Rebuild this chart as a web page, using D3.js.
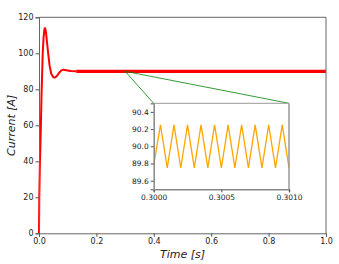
<!DOCTYPE html>
<meta charset="utf-8">
<script src="https://d3js.org/d3.v7.min.js"></script>
<body style="margin:0;background:#fff">
    <div id="viz"></div>
</body>
<style>
    text { font-family: "DejaVu Sans", sans-serif; fill: #222; }
</style>
<script>
    // main current trace (transient then flat at 90 A)
    let timeMain = [0, 0.001, 0.003, 0.006, 0.009, 0.013, 0.016, 0.019, 0.021, 0.024, 0.028, 0.032,
        0.037, 0.043, 0.05, 0.056, 0.063, 0.07, 0.078, 0.085, 0.095, 0.11, 0.13];
    let currentMain = [0, 20, 38, 56, 78, 100, 109, 113.5, 114, 112, 106, 100,
        93, 88.5, 86.7, 86.5, 87.5, 89.2, 90.5, 90.9, 90.6, 90.2, 90];
    let timeFlat = [0.13, 1.0];
    let currentFlat = [90, 90];

    // zoomed ripple 0.3000 .. 0.3010 s
    let timeZoom = [0.30000, 0.30005, 0.30010, 0.30015, 0.30020, 0.30025, 0.30030, 0.30035, 0.30040,
        0.30045, 0.30050, 0.30055, 0.30060, 0.30065, 0.30070, 0.30075, 0.30080, 0.30085, 0.30090,
        0.30095, 0.30100];
    let currentZoom = [89.78, 90.25, 89.75, 90.25, 89.75, 90.25, 89.75, 90.25, 89.75,
        90.25, 89.75, 90.25, 89.75, 90.25, 89.75, 90.25, 89.75, 90.25, 89.75,
        90.25, 89.75];

    let xTicks = [0, 0.2, 0.4, 0.6, 0.8, 1.0];
    let yTicks = [0, 20, 40, 60, 80, 100, 120];
    let xTicksZoom = [0.3000, 0.3005, 0.3010];
    let yTicksZoom = [89.6, 89.8, 90.0, 90.2, 90.4];

    let width = 339, height = 264;
    let svg = d3.select("#viz").append("svg")
        .attr("width", width).attr("height", height);

    let x = d3.scaleLinear().domain([0, 1]).range([39, 326]);
    let y = d3.scaleLinear().domain([0, 120]).range([233.3, 17.3]);

    let line = d3.line().x(d => x(d[0])).y(d => y(d[1]));

    // main lines
    svg.append("path")
        .datum(d3.zip(timeMain, currentMain))
        .attr("d", line)
        .attr("fill", "none").attr("stroke", "red").attr("stroke-width", 2).attr("stroke-linejoin", "round");
    svg.append("path")
        .datum(d3.zip(timeFlat, currentFlat))
        .attr("d", line)
        .attr("fill", "none").attr("stroke", "red").attr("stroke-width", 3.2);

    // axes
    let xAxis = svg.append("g").attr("transform", `translate(0,${y(0)})`)
        .call(d3.axisBottom(x).tickValues(xTicks).tickFormat(d3.format(".1f")).tickSize(3.5).tickPadding(2));
    let yAxis = svg.append("g").attr("transform", `translate(${x(0)},0)`)
        .call(d3.axisLeft(y).tickValues(yTicks).tickFormat(d3.format("d")).tickSize(3.5).tickPadding(2));
    [xAxis, yAxis].forEach(a => {
        a.selectAll(".tick text").style("font-size", "8px").style("fill", "#222").style("font-family", "DejaVu Sans");
        a.selectAll(".tick line").attr("stroke", "#555");
        a.select(".domain").attr("stroke", "#666");
    });
    // top and right spines
    svg.append("line").attr("x1", x(0)).attr("x2", x(1)).attr("y1", y(120)).attr("y2", y(120))
        .attr("stroke", "#666");
    svg.append("line").attr("x1", x(1)).attr("x2", x(1)).attr("y1", y(120)).attr("y2", y(0))
        .attr("stroke", "#666");

    svg.append("text").attr("x", (x(0) + x(1)) / 2).attr("y", 258)
        .attr("text-anchor", "middle").style("font-size", "11px").style("font-style", "italic")
        .text("Time [s]");
    svg.append("text").attr("transform", `translate(15,${(y(0) + y(120)) / 2}) rotate(-90)`)
        .attr("text-anchor", "middle").style("font-size", "11px").style("font-style", "italic")
        .text("Current [A]");

    // inset
    let xi = d3.scaleLinear().domain([0.3000, 0.3010]).range([153.7, 289]);
    let yi = d3.scaleLinear().domain([89.5, 90.5]).range([189.3, 103.3]);

    // connector lines
    svg.append("line").attr("x1", x(0.3)).attr("y1", y(90)).attr("x2", xi(0.3000)).attr("y2", yi(90.5))
        .attr("stroke", "green").attr("stroke-width", 0.8);
    svg.append("line").attr("x1", x(0.3)).attr("y1", y(90)).attr("x2", xi(0.3010)).attr("y2", yi(90.5))
        .attr("stroke", "green").attr("stroke-width", 0.8);

    svg.append("rect").attr("x", xi(0.3)).attr("y", yi(90.5))
        .attr("width", xi(0.301) - xi(0.3)).attr("height", yi(89.5) - yi(90.5))
        .attr("fill", "white");

    let lineZoom = d3.line().x(d => xi(d[0])).y(d => yi(d[1]));
    svg.append("path")
        .datum(d3.zip(timeZoom, currentZoom))
        .attr("d", lineZoom)
        .attr("fill", "none").attr("stroke", "orange").attr("stroke-width", 1.3);

    let xAxisI = svg.append("g").attr("transform", `translate(0,${yi(89.5)})`)
        .call(d3.axisBottom(xi).tickValues(xTicksZoom).tickFormat(d3.format(".4f")).tickSize(3).tickPadding(2));
    let yAxisI = svg.append("g").attr("transform", `translate(${xi(0.3)},0)`)
        .call(d3.axisLeft(yi).tickValues(yTicksZoom).tickFormat(d3.format(".1f")).tickSize(3).tickPadding(2));
    [xAxisI, yAxisI].forEach(a => {
        a.selectAll(".tick text").style("font-size", "7.5px").style("fill", "#222").style("font-family", "DejaVu Sans");
        a.selectAll(".tick line").attr("stroke", "#555");
        a.select(".domain").attr("stroke", "#888").attr("stroke-width", 1.5);
    });
    svg.append("line").attr("x1", xi(0.3)).attr("x2", xi(0.301)).attr("y1", yi(90.5)).attr("y2", yi(90.5))
        .attr("stroke", "#999");
    svg.append("line").attr("x1", xi(0.301)).attr("x2", xi(0.301)).attr("y1", yi(90.5)).attr("y2", yi(89.5))
        .attr("stroke", "#999").attr("stroke-width", 1.5);
</script>
